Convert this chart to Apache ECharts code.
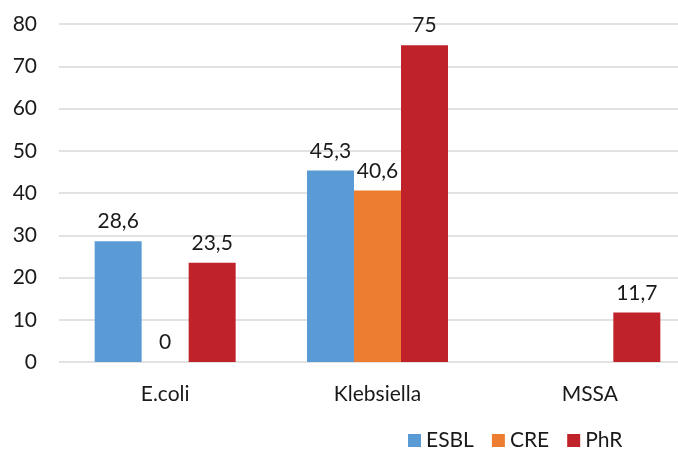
<!DOCTYPE html>
<html>
<head>
<meta charset="utf-8">
<script src="https://cdn.jsdelivr.net/npm/echarts@6/dist/echarts.min.js"></script>
<style>
  html, body { margin: 0; padding: 0; background: #fff; }
  #chart { width: 678px; height: 450px; }
</style>
</head>
<body>
<div id="chart"></div>
<script>
const categories = ['E.coli', 'Klebsiella', 'MSSA'];
const esbl = [28.6, 45.3, null];
const cre = [0, 40.6, null];
const phr = [23.5, 75, 11.7];

const font = 'Lato, "Open Sans", sans-serif';
const textColor = '#1a1a1a';
const fs = 21;

// labels use a decimal comma as in the source
const commaLabel = {
  show: true,
  position: 'top',
  distance: 9,
  fontSize: fs,
  fontFamily: font,
  color: textColor,
  formatter: (p) => (p.value == null ? '' : String(p.value).replace('.', ',')),
};

const makeSeries = (name, data, color) => ({
  name,
  type: 'bar',
  data,
  barWidth: 47,
  barGap: '0%',
  itemStyle: { color },
  label: commaLabel,
});

const chart = echarts.init(document.getElementById('chart'));
chart.setOption({
  animation: false,
  // plot area runs past the right edge, as in the cropped source image
  grid: { left: 59, right: -18, top: 24, bottom: 88, containLabel: false, outerBoundsMode: 'none' },
  legend: {
    left: 403,
    top: 425,
    icon: 'rect',
    itemWidth: 13,
    itemHeight: 13,
    itemGap: 18,
    textStyle: { fontSize: fs, fontFamily: font, color: textColor },
    data: ['ESBL', 'CRE', 'PhR'],
  },
  xAxis: {
    type: 'category',
    data: categories,
    axisLine: { show: false },
    axisTick: { show: false },
    axisLabel: { fontSize: fs, fontFamily: font, color: textColor, margin: 22 },
  },
  yAxis: {
    type: 'value',
    min: 0,
    max: 80,
    interval: 10,
    axisLine: { show: false },
    axisTick: { show: false },
    axisLabel: { fontSize: fs, fontFamily: font, color: textColor, margin: 22 },
    splitLine: { lineStyle: { color: '#d9d9d9', width: 1.5 } },
  },
  series: [
    makeSeries('ESBL', esbl, '#5b9bd5'),
    makeSeries('CRE', cre, '#ed7d31'),
    makeSeries('PhR', phr, '#c0222a'),
  ],
});
</script>
</body>
</html>
